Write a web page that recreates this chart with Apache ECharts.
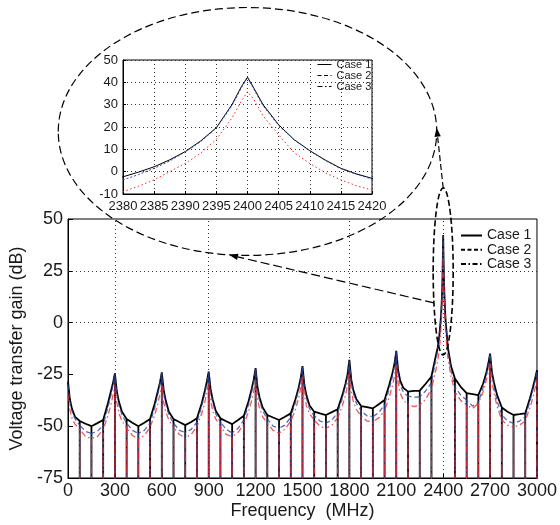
<!DOCTYPE html>
<html>
<head>
<meta charset="utf-8">
<script src="https://cdn.jsdelivr.net/npm/echarts@6/dist/echarts.min.js"></script>
<style>
  html, body { margin: 0; padding: 0; background: #fff; }
  #chart { width: 560px; height: 525px; }
</style>
</head>
<body>
<div id="chart"></div>
<script>
// ---------------- data ----------------
const freq = [
  0,12,25,45,75,112,150,188,225,255,275,288,
  300,312,325,345,375,412,450,488,525,555,575,588,
  600,612,625,645,675,712,750,788,825,855,875,888,
  900,912,925,945,975,1012,1050,1088,1125,1155,1175,1188,
  1200,1212,1225,1245,1275,1312,1350,1388,1425,1455,1475,1488,
  1500,1512,1525,1545,1575,1612,1650,1688,1725,1755,1775,1788,
  1800,1812,1825,1845,1875,1912,1950,1988,2025,2055,2075,2088,
  2100,2112,2125,2145,2175,2212,2250,2288,2325,2350,2365,2375,
  2380,2382.5,2385,2387.5,2390,2392.5,2395,2397.5,2399,2400,2401,2402.5,2405,2407.5,2410,2412.5,2415,2417.5,2420,
  2430,2450,2475,2512,2550,2588,2625,2655,2675,2688,
  2700,2712,2725,2745,2775,2812,2850,2888,2925,2955,2975,2988,
  3000
];
const case1 = [
  -28.5,-37,-41.5,-45.5,-47.5,-48.8,-50,-48.5,-47,-39,-33,-29,
  -24.5,-33,-38,-43,-46.5,-48.3,-50,-48.3,-46.5,-39,-33,-29,
  -24,-32.5,-37.5,-43,-46.5,-48,-49.5,-48,-46.2,-39,-33,-28.5,
  -23.7,-32,-37,-42.5,-46.2,-47.6,-49,-47,-45,-38,-32,-27.5,
  -22,-31,-36,-41,-44.6,-45.8,-47,-45.4,-43.8,-37,-31.5,-27,
  -21,-30,-35,-40,-43,-43.8,-44.6,-43.2,-41.8,-35,-29.5,-25,
  -18,-27.5,-32.5,-37,-40.3,-40.8,-41.4,-39.4,-37.4,-30,-24.5,-20,
  -13.6,-23,-28,-31.5,-33.3,-33,-32.8,-29.5,-26,-17,-12,-6.5,
  -2.3,-0.2,2.2,5.3,9,13.8,19.7,30,38,42.3,37.5,30,21,14.3,9.4,5.2,1.5,-1,-3,
  -12,-21,-27,-31,-34,-34.5,-35,-29.5,-24.5,-20,
  -15,-24,-29,-35,-41,-43,-44.6,-44.2,-43.8,-36.5,-31,-27,
  -23
];
const case2 = [
  -30,-38,-42.5,-46.5,-49.5,-52.5,-53.5,-52.5,-49.5,-41,-35,-30,
  -24.8,-34,-39.5,-44.5,-48.5,-52,-53.5,-52,-48.5,-41,-34.5,-29.5,
  -24.3,-33.5,-39,-44.5,-48.5,-52,-53,-51.5,-48,-40.5,-34.5,-29,
  -24,-33,-38.5,-44,-48,-51.5,-53.3,-51,-47,-39.5,-33.5,-28.5,
  -22.3,-32,-37.5,-42.5,-46.5,-50,-51,-49.5,-45.5,-38.5,-32.5,-28,
  -21.3,-31,-36.5,-41.5,-45,-47.5,-48.5,-47,-43.5,-36.5,-30.5,-26,
  -18.5,-28.5,-34,-39,-42.5,-45,-45.4,-43.5,-39.5,-32,-26,-21,
  -14,-24.5,-30,-33.5,-35.5,-36,-35.8,-33,-29,-19,-13.5,-7.5,
  -3.7,-1.3,1.5,4.8,8.8,13.5,19.5,29.5,37.5,42,37,29.5,20.7,14.2,9.3,5,1.3,-1.2,-3.3,
  -13.5,-23,-31,-35,-37.4,-40.3,-38.5,-31.5,-25.5,-21,
  -15.3,-24.5,-31,-38,-44.6,-47.5,-48.6,-47.5,-45.4,-38,-32,-28,
  -23.3
];
const case3 = [
  -35,-42,-46,-49,-51.5,-55,-56,-55,-51.5,-45,-39.5,-35,
  -30,-38.5,-43.5,-47.5,-50.5,-54.5,-56,-54.5,-50.5,-44.5,-39,-34.5,
  -30,-38.5,-43,-47,-50.5,-54,-55.5,-54,-50,-44,-38.5,-34,
  -29,-37.5,-42.5,-46.5,-50,-54,-55,-53,-49,-43,-37.5,-33,
  -27.7,-36.5,-41.5,-45.5,-48.5,-52,-53.3,-51.5,-47.5,-42,-36.5,-32,
  -26,-35,-40,-44,-47,-50,-51,-49.5,-46,-40,-35,-30.5,
  -23.7,-33,-38,-42,-45,-47.5,-47.8,-46,-42.5,-36,-30.5,-26,
  -20.5,-29,-34,-37.5,-39.5,-40.5,-39.8,-37,-32,-24,-18.5,-13,
  -9,-6.5,-3.7,0,3.7,8.3,14.5,24,31.5,35.8,32.5,25,16.5,8.5,3.7,-0.5,-3.7,-6.3,-8.2,
  -17,-26,-33.3,-37.5,-39.8,-41.4,-39,-33.5,-28,-24,
  -19.5,-28,-34,-40.5,-47,-49.5,-50.5,-49.5,-47.5,-41,-36,-31.5,
  -26.7
];
// frequencies of the deep nulls (drawn as drops far below the axis)
const notchFreq = [
  75,150,225,300,375,450,525,600,675,750,825,900,975,1050,1125,1200,
  1275,1350,1425,1500,1575,1650,1725,1800,1875,1950,2025,2100,2175,2250,2325,
  2475,2550,2625,2700,2775,2850,2925,3000
];
const nullLevel = -120;
const seriesNames = ['Case 1', 'Case 2', 'Case 3'];
const gridFreqs = [300, 900, 1800, 2400];
const gridLevels = [0, 25];
const insetWindow = [2370, 2430];

// ---------------- build ----------------
function mainData(vals) {
  const out = [];
  freq.forEach((f, i) => {
    out.push([f, vals[i]]);
    if (notchFreq.includes(f)) { out.push([f, nullLevel]); out.push([f, vals[i]]); }
  });
  return out;
}
function insetData(vals) {
  return freq.map((f, i) => [f, vals[i]]).filter(d => d[0] >= insetWindow[0] && d[0] <= insetWindow[1]);
}

const FONT = "'Liberation Sans', Arial, sans-serif";
const TXT = '#1a1a1a';
const colors = ['#000000', '#2a47a8', '#ee2b2b'];
const mainTypes = ['solid', [5, 3], [6, 3, 1.5, 3]];
const mainWidths = [1.8, 1.3, 1.3];
const insetTypes = ['solid', [2, 2], [1.5, 2.5]];
const legendTypes = ['solid', [4, 2.5], [5, 2.5, 1.5, 2.5]];
const plain = v => String(v);

const chart = echarts.init(document.getElementById('chart'), null, { renderer: 'canvas' });

const series = [];
series.push({
  name: '_grid', type: 'line', data: [], xAxisIndex: 0, yAxisIndex: 0, silent: true, z: 1,
  markLine: {
    symbol: 'none', silent: true, animation: false, label: { show: false },
    lineStyle: { color: '#333', type: [1, 3], width: 1 },
    data: gridFreqs.map(x => ({ xAxis: x })).concat(gridLevels.map(y => ({ yAxis: y })))
  }
});
[case1, case2, case3].forEach((vals, k) => {
  series.push({
    name: seriesNames[k], type: 'line', xAxisIndex: 0, yAxisIndex: 0,
    data: mainData(vals), symbol: 'none', showSymbol: false, clip: true, z: 2 + k,
    lineStyle: { color: colors[k], width: mainWidths[k], type: mainTypes[k], opacity: k === 0 ? 1 : 0.8 },
    itemStyle: { color: colors[k] }, animation: false
  });
});
[case1, case2, case3].forEach((vals, k) => {
  series.push({
    name: seriesNames[k], type: 'line', xAxisIndex: 1, yAxisIndex: 1,
    data: insetData(vals), symbol: 'none', showSymbol: false, clip: true, z: 2 + k,
    lineStyle: { color: colors[k], width: 1, type: insetTypes[k] },
    itemStyle: { color: colors[k] }, animation: false
  });
});

const legendItems = (w) => seriesNames.map((n, k) => ({
  name: n, itemStyle: { color: 'rgba(0,0,0,0)', opacity: 0, borderWidth: 0 },
  lineStyle: { color: '#000', width: w, type: legendTypes[k], opacity: 1 }
}));

chart.setOption({
  animation: false,
  backgroundColor: '#fff',
  textStyle: { fontFamily: FONT },
  grid: [
    { left: 68, top: 219, width: 470, height: 259, show: true, borderColor: '#000', borderWidth: 1, backgroundColor: 'transparent' },
    { left: 123, top: 60, width: 249, height: 134, show: true, borderColor: '#000', borderWidth: 1, backgroundColor: '#fff' }
  ],
  xAxis: [
    { type: 'value', gridIndex: 0, min: 0, max: 3000, interval: 300,
      name: 'Frequency  (MHz)', nameLocation: 'middle', nameGap: 24,
      nameTextStyle: { fontSize: 18, color: TXT, fontFamily: FONT },
      axisLine: { show: true, onZero: false, lineStyle: { color: '#000' } },
      axisTick: { show: true, inside: true, length: 5, lineStyle: { color: '#000' } },
      axisLabel: { fontSize: 18, color: TXT, margin: 4, fontFamily: FONT, formatter: plain,
        showMinLabel: true, showMaxLabel: true },
      splitLine: { show: false } },
    { type: 'value', gridIndex: 1, min: 2380, max: 2420, interval: 5,
      axisLine: { show: true, onZero: false, lineStyle: { color: '#000' } },
      axisTick: { show: true, inside: true, length: 3, lineStyle: { color: '#000' } },
      axisLabel: { fontSize: 13, color: TXT, margin: 6, fontFamily: FONT, formatter: plain,
        showMinLabel: true, showMaxLabel: true, hideOverlap: false },
      splitLine: { show: true, lineStyle: { color: '#333', type: [1, 3], width: 1 } } }
  ],
  yAxis: [
    { type: 'value', gridIndex: 0, min: -75, max: 50, interval: 25,
      name: 'Voltage transfer gain (dB)', nameLocation: 'middle', nameGap: 42, nameRotate: 90,
      nameTextStyle: { fontSize: 18, color: TXT, fontFamily: FONT },
      axisLine: { show: true, onZero: false, lineStyle: { color: '#000' } },
      axisTick: { show: true, inside: true, length: 5, lineStyle: { color: '#000' } },
      axisLabel: { fontSize: 18, color: TXT, margin: 5, fontFamily: FONT, formatter: plain,
        showMinLabel: true, showMaxLabel: true },
      splitLine: { show: false } },
    { type: 'value', gridIndex: 1, min: -10, max: 50, interval: 10,
      axisLine: { show: true, onZero: false, lineStyle: { color: '#000' } },
      axisTick: { show: true, inside: true, length: 3, lineStyle: { color: '#000' } },
      axisLabel: { fontSize: 13, color: TXT, margin: 5, fontFamily: FONT, formatter: plain,
        showMinLabel: true, showMaxLabel: true },
      splitLine: { show: true, lineStyle: { color: '#333', type: [1, 3], width: 1 } } }
  ],
  legend: [
    { orient: 'vertical', left: 460, top: 228.5, padding: 0, itemGap: 0.3,
      itemWidth: 21, itemHeight: 10, selectedMode: false,
      textStyle: { fontSize: 14, lineHeight: 13, color: TXT, fontFamily: FONT },
      data: legendItems(2) },
    { orient: 'vertical', left: 317, top: 59, padding: 0, itemGap: 0,
      itemWidth: 14, itemHeight: 8, selectedMode: false,
      textStyle: { fontSize: 11, lineHeight: 10, color: TXT, fontFamily: FONT },
      data: legendItems(1) }
  ],
  series: series
});

// ---------------- annotations: zoom ellipses and arrows ----------------
const toMain = (x, y) => chart.convertToPixel({ gridIndex: 0 }, [x, y]);
const toInset = (x, y) => chart.convertToPixel({ gridIndex: 1 }, [x, y]);

const bigC = toInset(2400, 18);
const bigE = toInset(2430.4, 18 - 55.5);
const bigRx = bigE[0] - bigC[0], bigRy = bigE[1] - bigC[1];
const smC = toMain(2400, 24.7);
const smE = toMain(2464, 24.7 - 40.3);
const smRx = smE[0] - smC[0], smRy = smE[1] - smC[1];

function arrow(p0, p1, dash) {
  const dx = p1[0] - p0[0], dy = p1[1] - p0[1];
  const L = Math.hypot(dx, dy), ux = dx / L, uy = dy / L;
  const hl = 9, hw = 3.2;
  const b = [p1[0] - ux * hl, p1[1] - uy * hl];
  return [
    { type: 'line', z: 100, silent: true,
      shape: { x1: p0[0], y1: p0[1], x2: b[0], y2: b[1] },
      style: { stroke: '#000', lineWidth: 1.2, lineDash: dash } },
    { type: 'polygon', z: 100, silent: true,
      shape: { points: [p1, [b[0] - uy * hw, b[1] + ux * hw], [b[0] + uy * hw, b[1] - ux * hw]] },
      style: { fill: '#000' } }
  ];
}

const th = Math.asin(0.377);
const a1s = [smC[0] - smRx * Math.cos(th), smC[1] + smRy * Math.sin(th)];
const phi = Math.acos(-0.0976);
const a1e = [bigC[0] + bigRx * Math.cos(phi), bigC[1] + bigRy * Math.sin(phi)];
const a2s = [smC[0], smC[1] - smRy];
const a2e = [bigC[0] + bigRx * Math.cos(0.03), bigC[1] - bigRy * Math.sin(0.03)];

chart.setOption({
  graphic: [
    { type: 'ellipse', z: 99, silent: true,
      shape: { cx: bigC[0], cy: bigC[1], rx: bigRx, ry: bigRy },
      style: { fill: null, stroke: '#000', lineWidth: 1.2, lineDash: [8, 4] } },
    { type: 'ellipse', z: 99, silent: true,
      shape: { cx: smC[0], cy: smC[1], rx: smRx, ry: smRy },
      style: { fill: null, stroke: '#000', lineWidth: 1.6, lineDash: [6, 3] } }
  ].concat(arrow(a1s, a1e, [9, 4])).concat(arrow(a2s, a2e, [6, 3]))
});
</script>
</body>
</html>
